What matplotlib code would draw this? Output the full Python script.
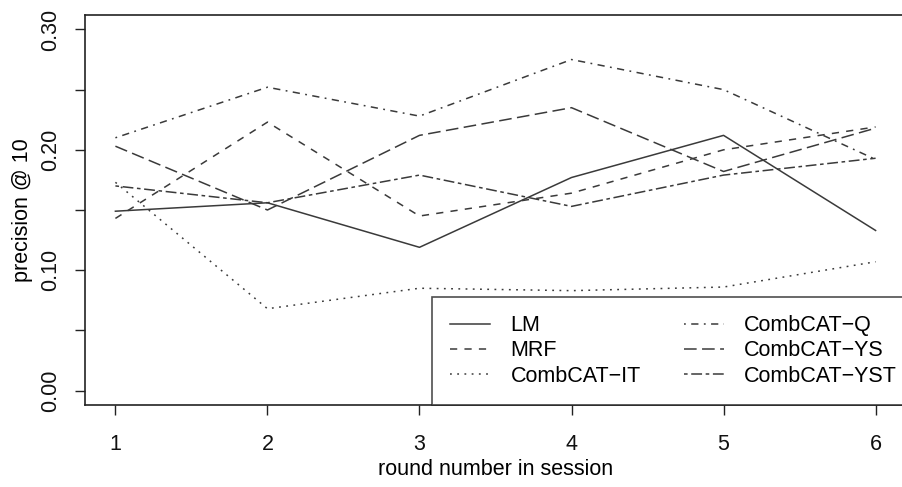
"""precision@10 per round in session, six systems, R-base-graphics look."""
import matplotlib
matplotlib.use('Agg')
import matplotlib.pyplot as plt

rounds = [1, 2, 3, 4, 5, 6]

lm = [0.149, 0.156, 0.119, 0.177, 0.212, 0.133]
mrf = [0.143, 0.223, 0.145, 0.164, 0.200, 0.219]
comb_it = [0.173, 0.068, 0.085, 0.083, 0.086, 0.107]
comb_q = [0.210, 0.252, 0.228, 0.275, 0.250, 0.192]
comb_ys = [0.203, 0.150, 0.212, 0.235, 0.182, 0.218]
comb_yst = [0.170, 0.156, 0.179, 0.153, 0.179, 0.193]

labels = ['LM', 'MRF', 'CombCAT\u2212IT', 'CombCAT\u2212Q', 'CombCAT\u2212YS', 'CombCAT\u2212YST']
yticks = [0.00, 0.10, 0.20, 0.30]
yminor = [0.05, 0.15, 0.25]

plt.rcParams['font.family'] = ['Liberation Sans', 'DejaVu Sans']
plt.rcParams['lines.scale_dashes'] = False

# R lty 1..6 in points (unit ~1.3pt)
u = 1.3
LTY = ['-',
       (0, (4 * u, 4 * u)),
       (0, (1 * u, 3 * u)),
       (0, (1 * u, 3 * u, 4 * u, 3 * u)),
       (0, (7 * u, 3 * u)),
       (0, (2 * u, 2 * u, 6 * u, 2 * u))]
COL = '#3a3a3a'
FS = 15.5

fig = plt.figure(figsize=(9.03, 4.87), dpi=100)
ax = fig.add_axes([85 / 903, 82 / 487, 821 / 903, 390 / 487])

series = [lm, mrf, comb_it, comb_q, comb_ys, comb_yst]
for vals, lab, ls in zip(series, labels, LTY):
    ax.plot(rounds, vals, color=COL, lw=1.1, linestyle=ls, label=lab)

ax.set_xlim(0.8, 6.2)
ax.set_ylim(-0.012, 0.312)
ax.set_xticks(rounds)
ax.set_yticks(yticks + yminor)
ax.set_yticklabels(['0.00', '0.10', '0.20', '0.30', '', '', ''],
                   rotation=90, va='center')
ax.tick_params(axis='both', direction='out', length=7, width=1, labelsize=FS,
               color='#222222', labelcolor='#111111')
ax.tick_params(axis='x', pad=14)
ax.tick_params(axis='y', pad=10)
for s in ax.spines.values():
    s.set_linewidth(1.2)
    s.set_color('#222222')

ax.set_xlabel('round number in session', fontsize=FS, labelpad=3)
ax.set_ylabel('precision @ 10', fontsize=FS, labelpad=5)

leg = ax.legend(ncol=2, loc='lower left', bbox_to_anchor=(432 / 903, 82 / 487),
                bbox_transform=fig.transFigure, fontsize=FS, frameon=True,
                fancybox=False, edgecolor='#222222', handlelength=1.85,
                handletextpad=0.95, columnspacing=2.0, labelspacing=0.2,
                borderpad=0.85, borderaxespad=0)
leg.get_frame().set_linewidth(1.2)

fig.savefig('out.png', dpi=100)
